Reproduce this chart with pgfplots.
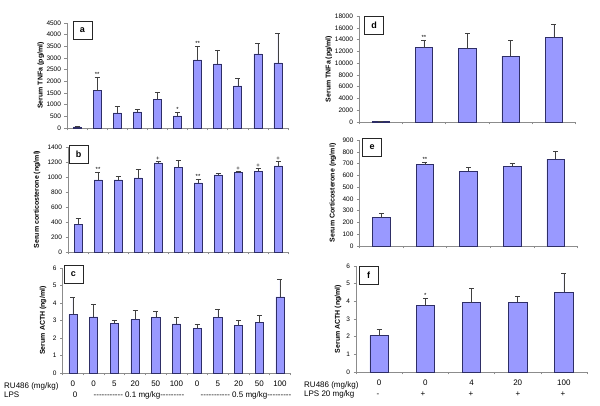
\documentclass[border=0pt]{standalone}
\usepackage{fontspec}
\setmainfont{Liberation Sans}[Ligatures=TeXOff]
\usepackage{pgfplots}
\usepackage{pgfplotstable}
\pgfplotsset{compat=1.18}
\definecolor{barfill}{HTML}{9999FF}
\definecolor{baredge}{HTML}{2E2E66}
\definecolor{axgray}{HTML}{8C8C8C}
\definecolor{errgray}{HTML}{404040}

\pgfplotstableread{
x y e
0 50 20
1 1600 586
2 643 286
3 686 128
4 1229 314
5 514 172
6 2915 600
7 2743 600
8 1800 329
9 3172 443
10 2786 1286
}\dataA
\pgfplotstableread{
x y e
0 370 83
1 960 107
2 960 49
3 987 115
4 1187 22
5 1129 93
6 920 53
7 1027 26
8 1058 22
9 1076 35
10 1147 62
}\dataB
\pgfplotstableread{
x y e
0 3.35 1.00
1 3.20 0.71
2 2.84 0.17
3 3.07 0.49
4 3.18 0.32
5 2.80 0.40
6 2.55 0.25
7 3.18 0.46
8 2.72 0.28
9 2.87 0.41
10 4.35 0.98
}\dataC
\pgfplotstableread{
x y e
0 40 60
1 12640 1300
2 12470 2590
3 11170 2710
4 14390 2200
}\dataD
\pgfplotstableread{
x y e
0 241 35
1 690 20
2 636 34
3 679 22
4 738 66
}\dataE
\pgfplotstableread{
x y e
0 2.06 0.37
1 3.75 0.40
2 3.92 0.80
3 3.94 0.36
4 4.50 1.07
}\dataF

\tikzset{
  ann/.style={font=\fontsize{6}{6}\selectfont, anchor=south, inner sep=0.5pt, text=black},
  letterbox/.style={draw=black!85, line width=0.6pt, minimum width=19pt, minimum height=18pt, inner sep=0pt, font=\bfseries\fontsize{9}{9}\selectfont, fill=white},
}
\pgfplotsset{
  panel/.style={
    scale only axis, anchor=south west,
    ymin=0, xmin=-0.5,
    ybar, bar width=0.4,
    axis x line=bottom, axis y line=left,
    axis line style={-, draw=axgray, line width=0.5pt},
    tick style={draw=axgray, line width=0.5pt},
    tick align=outside,
    major tick length=2.5pt,
    scaled y ticks=false,
    yticklabel style={font=\fontsize{6.5}{7}\selectfont, /pgf/number format/fixed, /pgf/number format/1000 sep={}},
    /pgf/number format/assume math mode=true,
    xticklabels={},
    ylabel style={font=\bfseries\fontsize{7}{8}\selectfont, anchor=center},
    clip=false,
  },
  barplot/.style={
    fill=barfill, draw=baredge, line width=0.6pt,
    error bars/.cd, y dir=plus, y explicit,
    error bar style={draw=errgray, line width=0.5pt},
    error mark options={rotate=90, draw=errgray, mark size=2.5pt, line width=0.5pt},
  },
  bottomlbl/.style={
    extra x tick style={major tick length=0pt, xticklabel style={font=\fontsize{8}{9}\selectfont, anchor=base, yshift=-14pt}},
  },
}

\begin{document}
\begin{tikzpicture}[x=1pt,y=1pt]
\path[use as bounding box] (0,0) rectangle (600,406);

% ---------- panel a
\begin{axis}[panel, at={(67pt,278pt)}, width=221pt, height=105pt,
  xmax=10.5, ymax=4500, ytick={0,500,...,4500},
  xtick={-0.5,0.5,...,10.5},
  ylabel={Serum TNFa (pg/ml)},
  ylabel style={at={(axis description cs:-0.118,0.5)}}]
\addplot[barplot] table[x=x,y=y,y error=e] {\dataA};
\node[ann] at (axis cs:1,2186) {**};
\node[ann] at (axis cs:6,3515) {**};
\node[ann] at (axis cs:5,686) {*};
\end{axis}

% ---------- panel b
\begin{axis}[panel, at={(68pt,154pt)}, width=220pt, height=105pt,
  xmax=10.5, ymax=1400, ytick={0,200,...,1400},
  xtick={-0.5,0.5,...,10.5},
  ylabel={Serum corticosterone (ng/ml)},
  ylabel style={at={(axis description cs:-0.141,0.5)}}]
\addplot[barplot] table[x=x,y=y,y error=e] {\dataB};
\node[ann] at (axis cs:1,1067) {**};
\node[ann] at (axis cs:4,1209) {+};
\node[ann] at (axis cs:6,973) {**};
\node[ann] at (axis cs:8,1080) {+};
\node[ann] at (axis cs:9,1111) {+};
\node[ann] at (axis cs:10,1209) {+};
\end{axis}

% ---------- panel c
\begin{axis}[panel, bottomlbl, at={(62.6pt,33pt)}, width=227.7pt, height=105pt,
  xmax=10.5, ymax=6, ytick={0,1,...,6},
  xtick={-0.5,0.5,...,10.5},
  extra x ticks={0,1,...,10},
  extra x tick labels={0,0,5,20,50,100,0,5,20,50,100},
  ylabel={Serum ACTH (ng/ml)},
  ylabel style={at={(axis description cs:-0.086,0.5)}}]
\addplot[barplot] table[x=x,y=y,y error=e] {\dataC};
\end{axis}

% ---------- panel d
\begin{axis}[panel, at={(359pt,284pt)}, width=216.5pt, height=106pt,
  xmax=4.5, ymax=18000, ytick={0,2000,...,18000},
  xtick={-0.5,0.5,...,4.5},
  ylabel={Serum TNFa (pg/ml)},
  ylabel style={at={(axis description cs:-0.139,0.5)}}]
\addplot[barplot] table[x=x,y=y,y error=e] {\dataD};
\node[ann] at (axis cs:1,13940) {**};
\end{axis}

% ---------- panel e
\begin{axis}[panel, at={(359.5pt,160pt)}, width=218pt, height=106pt,
  xmax=4.5, ymax=900, ytick={0,100,...,900},
  xtick={-0.5,0.5,...,4.5},
  ylabel={Serum Corticosterone (ng/ml)},
  ylabel style={at={(axis description cs:-0.122,0.5)}}]
\addplot[barplot] table[x=x,y=y,y error=e] {\dataE};
\node[ann] at (axis cs:1,710) {**};
\end{axis}

% ---------- panel f
\begin{axis}[panel, bottomlbl, at={(356pt,34pt)}, width=231pt, height=106pt,
  xmax=4.5, ymax=6, ytick={0,1,...,6},
  xtick={-0.5,0.5,...,4.5},
  extra x ticks={0,1,...,4},
  extra x tick labels={0,0,4,20,100},
  ylabel={Serum ACTH (ng/ml)},
  ylabel style={at={(axis description cs:-0.078,0.5)}}]
\addplot[barplot] table[x=x,y=y,y error=e] {\dataF};
\node[ann] at (axis cs:1,4.15) {*};
\end{axis}

% panel letters
\node[letterbox] at (82.5,376) {a};
\node[letterbox] at (78.5,252) {b};
\node[letterbox] at (73.5,131.5) {c};
\node[letterbox] at (374,381) {d};
\node[letterbox] at (372,259) {e};
\node[letterbox] at (368.5,130.5) {f};

% bottom rows
\begin{scope}[every node/.style={font=\fontsize{8}{9}\selectfont, inner sep=0pt}]
\node[anchor=base west] at (4,17) {RU486 (mg/kg)};
\node[anchor=base west] at (4,8) {LPS};
\node[anchor=base] at (75,8) {0};
\node[anchor=base] at (139,8) {----------- 0.1 mg/kg---------};
\node[anchor=base] at (246,8) {----------- 0.5 mg/kg---------};
\node[anchor=base west] at (304,18) {RU486 (mg/kg)};
\node[anchor=base west] at (304,9) {LPS 20 mg/kg};
\node[anchor=base] at (378,9) {-};
\node[anchor=base] at (423,9) {+};
\node[anchor=base] at (471,9) {+};
\node[anchor=base] at (518,9) {+};
\node[anchor=base] at (563,9) {+};
\end{scope}
\end{tikzpicture}
\end{document}
